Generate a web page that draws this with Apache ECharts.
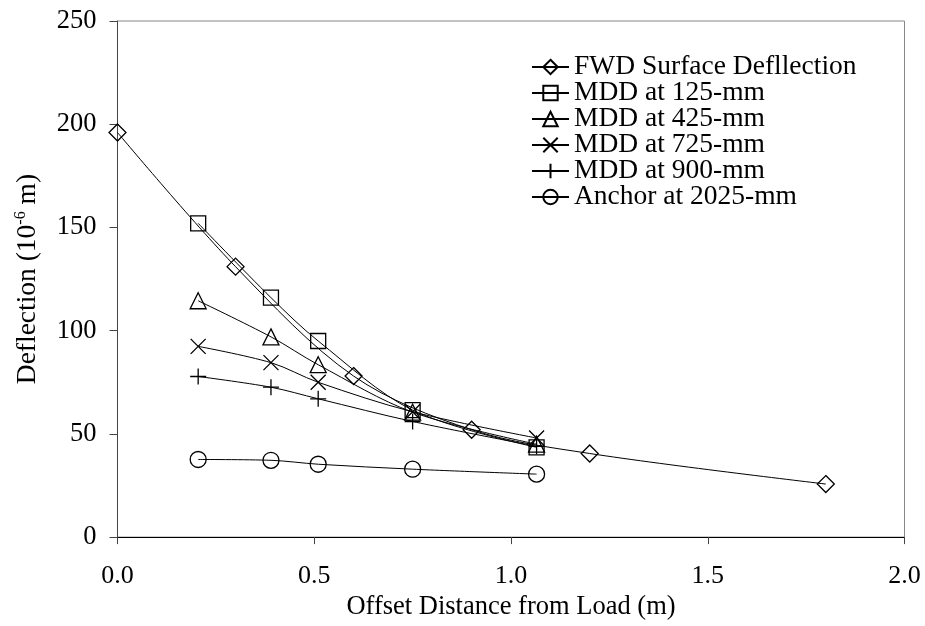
<!DOCTYPE html>
<html>
<head>
<meta charset="utf-8">
<title>Deflection vs offset</title>
<script src="https://cdn.jsdelivr.net/npm/echarts@6/dist/echarts.min.js"></script>
<style>
	html,body{margin:0;padding:0;background:#fff;}
	#chart{width:925px;height:626px;}
</style>
</head>
<body>
<div id="chart"></div>
<script type="text/javascript">
	// offsets (m)
	var fwdOffset = [0, 0.3, 0.6, 0.9, 1.2, 1.8];
	var mddOffset = [0.205, 0.39, 0.51, 0.75, 1.065];

	// deflections (10^-6 m)
	var fwdSurface = [196, 131, 78, 52, 40.5, 25.7];
	var mdd125 = [152, 116, 95, 61.5, 43.5];
	var mdd425 = [114.5, 97, 83.5, 60.5, 45];
	var mdd725 = [92.4, 84.5, 75, 60.7, 48];
	var mdd900 = [77.8, 72.6, 67, 56, 44];
	var anchor2025 = [37.6, 37.2, 35.3, 32.9, 30.5];

	var names = ['FWD Surface Defllection', 'MDD at 125-mm', 'MDD at 425-mm', 'MDD at 725-mm', 'MDD at 900-mm', 'Anchor at 2025-mm'];

	var font = "'Liberation Serif', 'Times New Roman', serif";

	function pairs(xs, ys){
		var out = [];
		for (var i = 0; i < xs.length; i++) out.push([xs[i], ys[i]]);
		return out;
	}

	function mkSeries(name, xs, ys, symbol, size){
		return {
			name: name,
			type: 'line',
			data: pairs(xs, ys),
			smooth: 0.33,
			symbol: symbol,
			symbolSize: size,
			showAllSymbol: true,
			lineStyle: {color: '#000', width: 1},
			itemStyle: {color: 'none', borderColor: '#000', borderWidth: 1.3},
			emphasis: {disabled: true},
			animation: false
		};
	}

	var cross = 'path://M0,0L10,10M10,0L0,10';
	var plus = 'path://M5,0L5,10M0,5L10,5';

	var myChart = echarts.init(document.getElementById('chart'));
	var option = {
		backgroundColor: '#fff',
		animation: false,
		grid: {
			left: 117.5,
			right: 20.5,
			top: 21,
			bottom: 80.3,
			show: true,
			borderColor: '#888',
			borderWidth: 1
		},
		legend: {
			orient: 'vertical',
			left: 526,
			top: 48,
			itemWidth: 37,
			itemHeight: 18,
			itemGap: -2,
			textStyle: {color: '#000', fontFamily: font, fontSize: 27.5, lineHeight: 26},
			data: names
		},
		xAxis: {
			type: 'value',
			min: 0,
			max: 2,
			interval: 0.5,
			name: 'Offset Distance from Load (m)',
			nameLocation: 'middle',
			nameGap: 48,
			nameTextStyle: {color: '#000', fontFamily: font, fontSize: 26.5},
			axisLine: {lineStyle: {color: '#000', width: 1}},
			axisTick: {inside: false, length: 7, lineStyle: {color: '#444'}},
			axisLabel: {
				color: '#000', fontFamily: font, fontSize: 26, margin: 26,
				formatter: function(v){ return v.toFixed(1); }
			},
			splitLine: {show: false}
		},
		yAxis: {
			type: 'value',
			min: 0,
			max: 250,
			interval: 50,
			name: '{a|Deflection (10}{s|-6}{a| m)}',
			nameLocation: 'middle',
			nameRotate: 90,
			nameGap: 75,
			nameTextStyle: {
				color: '#000', fontFamily: font, fontSize: 27.5,
				rich: {
					a: {color: '#000', fontFamily: font, fontSize: 27.5, lineHeight: 30},
					s: {color: '#000', fontFamily: font, fontSize: 16, lineHeight: 30, verticalAlign: 'top'}
				}
			},
			axisLine: {show: true, lineStyle: {color: '#444', width: 1}},
			axisTick: {show: true, inside: false, length: 8, lineStyle: {color: '#444'}},
			axisLabel: {color: '#000', fontFamily: font, fontSize: 26.5, margin: 21},
			splitLine: {show: false}
		},
		series: [
			mkSeries(names[0], fwdOffset, fwdSurface, 'diamond', 17),
			mkSeries(names[1], mddOffset, mdd125, 'rect', 15),
			mkSeries(names[2], mddOffset, mdd425, 'triangle', 16),
			mkSeries(names[3], mddOffset, mdd725, cross, 15),
			mkSeries(names[4], mddOffset, mdd900, plus, 16),
			mkSeries(names[5], mddOffset, anchor2025, 'circle', 16)
		]
	};
	myChart.setOption(option);
</script>
</body>
</html>
